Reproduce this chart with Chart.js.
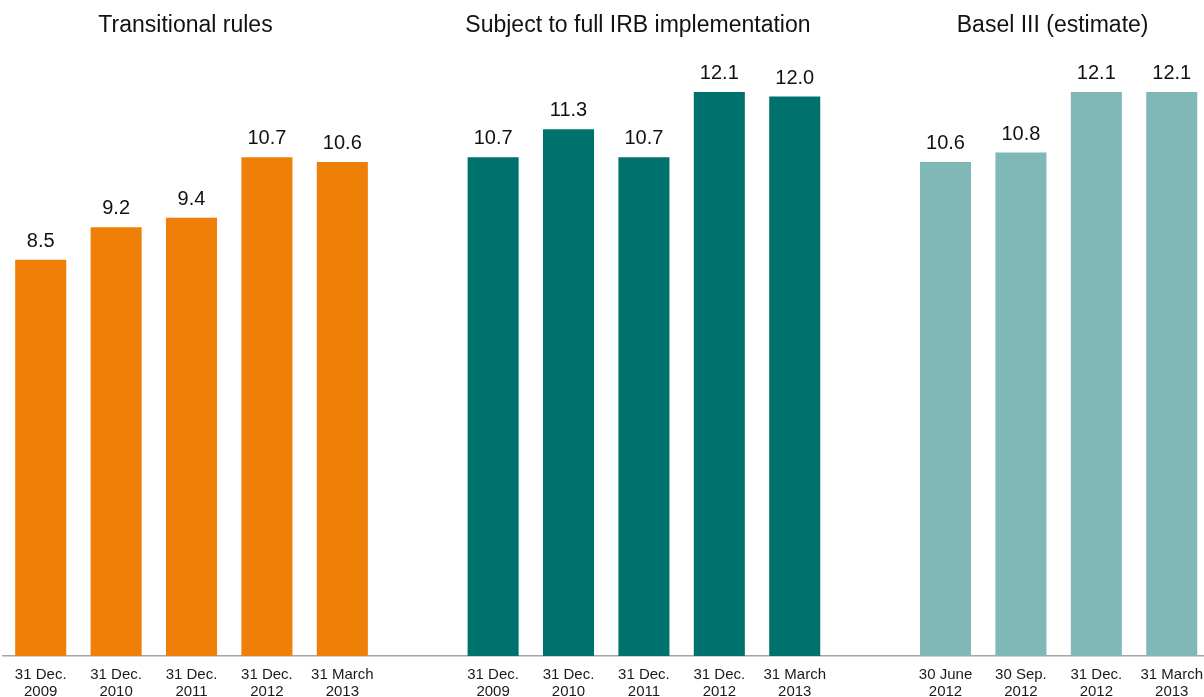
<!DOCTYPE html>
<html>
<head>
<meta charset="utf-8">
<title>Capital ratios</title>
<script src="https://cdn.jsdelivr.net/npm/chart.js@4.4.0/dist/chart.umd.min.js"></script>
<style>
    html, body { margin: 0; padding: 0; background: #fff; overflow: hidden; }
    #ratioChart { display: block; }
</style>
</head>
<body>
<canvas id="ratioChart" width="1214" height="697"></canvas>
<script>
// Ratios per reporting date, one array per panel
const transitionalLabels = [['31 Dec.', '2009'], ['31 Dec.', '2010'], ['31 Dec.', '2011'], ['31 Dec.', '2012'], ['31 March', '2013']];
const transitionalValues = [8.5, 9.2, 9.4, 10.7, 10.6];

const fullIrbLabels = [['31 Dec.', '2009'], ['31 Dec.', '2010'], ['31 Dec.', '2011'], ['31 Dec.', '2012'], ['31 March', '2013']];
const fullIrbValues = [10.7, 11.3, 10.7, 12.1, 12.0];

const baselLabels = [['30 June', '2012'], ['30 Sep.', '2012'], ['31 Dec.', '2012'], ['31 March', '2013']];
const baselValues = [10.6, 10.8, 12.1, 12.1];

const groupTitles = ['Transitional rules', 'Subject to full IRB implementation', 'Basel III (estimate)'];
const groupColors = ['#ee7f07', '#00726e', '#80b8b8'];

document.addEventListener('DOMContentLoaded', () => {
    // one empty slot between panels
    const groups = [
        { labels: transitionalLabels, values: transitionalValues },
        { labels: fullIrbLabels, values: fullIrbValues },
        { labels: baselLabels, values: baselValues }
    ];

    const labels = [];
    const ranges = [];
    groups.forEach((g, i) => {
        if (i > 0) labels.push('');
        const start = labels.length;
        labels.push(...g.labels);
        ranges.push([start, labels.length - 1]);
    });

    const datasets = groups.map((g, i) => {
        const data = labels.map(() => null);
        g.values.forEach((v, j) => { data[ranges[i][0] + j] = v; });
        return {
            label: groupTitles[i],
            data: data,
            backgroundColor: groupColors[i],
            borderWidth: 0,
            barPercentage: 0.677,
            categoryPercentage: 1
        };
    });

    // value above each bar
    const valueLabels = {
        id: 'valueLabels',
        afterDatasetsDraw(chart) {
            const ctx = chart.ctx;
            ctx.save();
            ctx.font = '20px "Liberation Sans", Arial, sans-serif';
            ctx.fillStyle = '#111';
            ctx.textAlign = 'center';
            ctx.textBaseline = 'alphabetic';
            chart.data.datasets.forEach((ds, di) => {
                const meta = chart.getDatasetMeta(di);
                meta.data.forEach((bar, idx) => {
                    const v = ds.data[idx];
                    if (v === null || v === undefined) return;
                    ctx.fillText(v.toFixed(1), bar.x, bar.y - 13);
                });
            });
            ctx.restore();
        }
    };

    // panel headings
    const panelTitles = {
        id: 'panelTitles',
        afterDraw(chart) {
            const ctx = chart.ctx;
            const x = chart.scales.x;
            ctx.save();
            ctx.font = '23px "Liberation Sans", Arial, sans-serif';
            ctx.fillStyle = '#111';
            ctx.textAlign = 'center';
            ctx.textBaseline = 'alphabetic';
            ranges.forEach((r, i) => {
                const cx = (x.getPixelForValue(r[0]) + x.getPixelForValue(r[1])) / 2 - 6;
                ctx.fillText(groupTitles[i], cx, 32);
            });
            ctx.restore();
        }
    };

    new Chart(document.getElementById('ratioChart'), {
        type: 'bar',
        data: { labels: labels, datasets: datasets },
        options: {
            responsive: false,
            animation: false,
            layout: { padding: { top: 50, left: 3, right: 0, bottom: 0 } },
            plugins: {
                legend: { display: false },
                tooltip: { enabled: false }
            },
            scales: {
                x: {
                    stacked: true,
                    grid: { display: false, drawTicks: false },
                    border: { display: true, color: '#a6a6a6', width: 1.5 },
                    ticks: {
                        autoSkip: false,
                        maxRotation: 0,
                        padding: 11,
                        color: '#1a1a1a',
                        font: { family: '"Liberation Sans", Arial, sans-serif', size: 15, lineHeight: 1.1 }
                    },
                    afterFit: (scale) => { scale.height = 41; }
                },
                y: {
                    stacked: true,
                    display: false,
                    min: 0,
                    max: 13
                }
            }
        },
        plugins: [valueLabels, panelTitles]
    });
});
</script>
</body>
</html>
